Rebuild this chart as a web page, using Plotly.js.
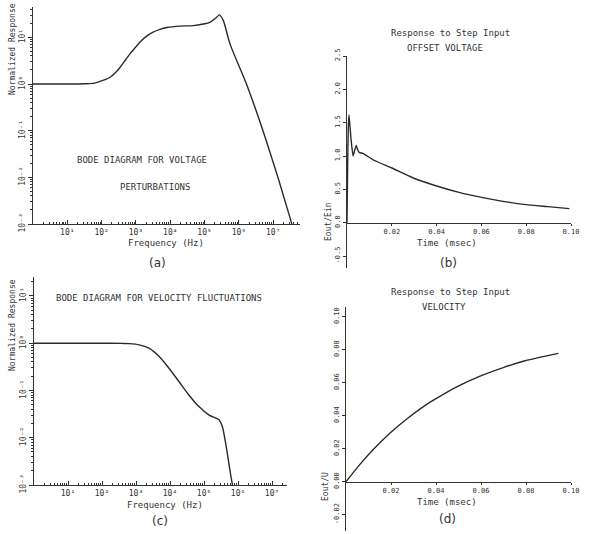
<!DOCTYPE html>
<html>
<head>
<meta charset="utf-8">
<script src="https://cdn.plot.ly/plotly-3.0.1.min.js"></script>
<style>html,body{margin:0;padding:0;background:#fff;}#chart{width:596px;height:534px;}</style>
</head>
<body>
<div id="chart"></div>
<script>
// (a) Bode diagram for voltage perturbations
const freqA = [1, 10, 31.6, 63.1, 89.1, 125.9, 173.8, 251.2, 346.7, 501.2, 676.1, 1000, 1318, 1995, 3162, 5012, 7943, 19498, 46774, 102329, 141254, 177828, 223872, 269153, 346737, 549541, 1659587, 6309573, 30902954, 53703180];
const respA = [1, 1, 1.012, 1.047, 1.14, 1.245, 1.38, 1.74, 2.29, 3.31, 4.47, 6.31, 7.94, 10.47, 12.9, 14.8, 16.2, 17.4, 17.8, 19.5, 20.9, 23.4, 26.9, 30.2, 23.4, 7.24, 1.0, 0.0603, 0.00135, 0.000295];

// (b) step response, offset voltage
const timeB = [0, 0.0003, 0.0006, 0.0009, 0.0018, 0.0027, 0.0034, 0.0041, 0.0048, 0.0056, 0.0071, 0.0118, 0.020, 0.0296, 0.040, 0.0504, 0.060, 0.0696, 0.080, 0.0896, 0.0993];
const respB = [0, 0.9, 1.45, 1.62, 1.25, 1.0, 1.08, 1.16, 1.09, 1.05, 1.04, 0.94, 0.82, 0.67, 0.55, 0.45, 0.38, 0.32, 0.27, 0.24, 0.21];

// (c) Bode diagram for velocity fluctuations
const freqC = [1, 100, 398, 631, 1230, 2399, 4786, 9333, 18197, 36308, 70795, 141254, 275423, 346737, 676083, 954993];
const respC = [1, 1, 0.989, 0.977, 0.923, 0.783, 0.525, 0.295, 0.155, 0.0794, 0.0457, 0.0302, 0.0240, 0.0170, 0.00107, 0.000372];

// (d) step response, velocity
const timeD = [0, 0.0062, 0.0121, 0.0196, 0.027, 0.0344, 0.0396, 0.0492, 0.0596, 0.0699, 0.0796, 0.0944];
const respD = [0, 0.0105, 0.0195, 0.0295, 0.0380, 0.0455, 0.0500, 0.0575, 0.0640, 0.0692, 0.0733, 0.0778];

// tick labels
const freqTickVals = [10, 100, 1000, 10000, 100000, 1000000, 10000000];
const freqTickText = ['10¹', '10²', '10³', '10⁴', '10⁵', '10⁶', '10⁷'];
const respTickVals = [0.001, 0.01, 0.1, 1, 10];
const respTickText = ['10⁻³', '10⁻²', '10⁻¹', '10⁰', '10¹'];
const timeTickVals = [0.02, 0.04, 0.06, 0.08, 0.10];
const timeTickText = ['0.02', '0.04', '0.06', '0.08', '0.10'];
const bTickVals = [-0.5, 0, 0.5, 1.0, 1.5, 2.0, 2.5];
const bTickText = ['-0.5', '0.0', '0.5', '1.0', '1.5', '2.0', '2.5'];
const dTickVals = [-0.02, 0, 0.02, 0.04, 0.06, 0.08, 0.10];
const dTickText = ['-0.02', '0.00', '0.02', '0.04', '0.06', '0.08', '0.10'];

function minorLog(d0, d1) {
  const out = [];
  for (let d = d0; d <= d1; d++) for (let k = 2; k <= 9; k++) out.push(k * Math.pow(10, d));
  return out;
}

const W = 596, H = 534;
const px = v => v / W;
const py = v => 1 - v / H;
const ink = '#333';
const lineSmooth = {color: '#2a2a2a', width: 1.4, shape: 'spline', smoothing: 0.8};
const lineSpike = {color: '#2a2a2a', width: 1.4, shape: 'spline', smoothing: 0.4};

const traces = [
  {x: freqA, y: respA, xaxis: 'x', yaxis: 'y', mode: 'lines', line: lineSmooth, hoverinfo: 'skip'},
  {x: timeB, y: respB, xaxis: 'x2', yaxis: 'y2', mode: 'lines', line: lineSpike, hoverinfo: 'skip'},
  {x: freqC, y: respC, xaxis: 'x3', yaxis: 'y3', mode: 'lines', line: lineSmooth, hoverinfo: 'skip'},
  {x: timeD, y: respD, xaxis: 'x4', yaxis: 'y4', mode: 'lines', line: lineSmooth, hoverinfo: 'skip'}
];

const common = {showline: true, linecolor: ink, linewidth: 1, showgrid: false, zeroline: false,
  tickcolor: ink, tickwidth: 1, tickfont: {family: 'DejaVu Sans Mono', size: 8, color: ink}, fixedrange: true};
const smallTicks = {family: 'DejaVu Sans Mono', size: 7, color: ink};

function logX(dom, rng) {
  return Object.assign({}, common, {type: 'log', domain: dom, range: rng, tickmode: 'array',
    tickvals: freqTickVals, ticktext: freqTickText, ticks: 'inside', ticklen: 4,
    minor: {tickmode: 'array', tickvals: minorLog(0, 7), ticks: 'inside', ticklen: 2, tickcolor: ink, showgrid: false}});
}
function logY(dom, rng, anchor) {
  return Object.assign({}, common, {type: 'log', domain: dom, range: rng, anchor: anchor, tickmode: 'array',
    tickvals: respTickVals, ticktext: respTickText, ticks: 'outside', ticklen: 4, tickangle: -90,
    minor: {tickmode: 'array', tickvals: minorLog(-3, 1), ticks: 'outside', ticklen: 2, tickcolor: ink, showgrid: false}});
}

const layout = {
  width: W, height: H, margin: {l: 0, r: 0, t: 0, b: 0},
  paper_bgcolor: '#ffffff', plot_bgcolor: 'rgba(0,0,0,0)', showlegend: false,
  font: {family: 'DejaVu Sans Mono', size: 9, color: ink},
  xaxis: Object.assign(logX([px(33), px(300)], [0, 7.78]), {anchor: 'y'}),
  yaxis: logY([py(224), py(7)], [-3, 1.65], 'x'),
  xaxis2: Object.assign({}, common, {domain: [px(347), px(571)], range: [0, 0.1], anchor: 'free', position: py(222.7),
    tickmode: 'array', tickvals: timeTickVals, ticktext: timeTickText, ticks: 'outside', ticklen: 2, tickfont: smallTicks}),
  yaxis2: Object.assign({}, common, {domain: [py(268), py(56)], range: [-0.68, 2.5], anchor: 'x2',
    tickmode: 'array', tickvals: bTickVals, ticktext: bTickText, ticks: 'outside', ticklen: 3, tickangle: -90, tickfont: smallTicks}),
  xaxis3: Object.assign(logX([px(34), px(287)], [0, 7.44]), {anchor: 'y3'}),
  yaxis3: logY([py(485), py(277)], [-3, 1.4], 'x3'),
  xaxis4: Object.assign({}, common, {domain: [px(346), px(571)], range: [0, 0.1], anchor: 'free', position: py(481.7),
    tickmode: 'array', tickvals: timeTickVals, ticktext: timeTickText, ticks: 'outside', ticklen: 2, tickfont: smallTicks}),
  yaxis4: Object.assign({}, common, {domain: [py(531), py(307)], range: [-0.0299, 0.1059], anchor: 'x4',
    tickmode: 'array', tickvals: dTickVals, ticktext: dTickText, ticks: 'outside', ticklen: 3, tickangle: -90, tickfont: smallTicks}),
  annotations: []
};

function note(text, x, y, opts) {
  layout.annotations.push(Object.assign({text: text, xref: 'paper', yref: 'paper', x: px(x), y: py(y),
    xanchor: 'center', yanchor: 'middle', showarrow: false,
    font: {family: 'DejaVu Sans Mono', size: 9, color: ink}}, opts || {}));
}
const rot = {textangle: -90, font: {family: 'DejaVu Sans Mono', size: 8, color: ink}};
const cap = {font: {family: 'DejaVu Sans', size: 12, color: ink}};

note('BODE DIAGRAM FOR VOLTAGE', 142, 160);
note('PERTURBATIONS', 155, 187);
note('Frequency (Hz)', 166, 243);
note('(a)', 157, 263, cap);
note('Normalized Response', 12, 49, rot);

note('Response to Step Input', 450, 33);
note('OFFSET VOLTAGE', 445, 48);
note('Eout/Ein', 328, 222, rot);
note('Time (msec)', 447, 243);
note('(b)', 448, 263, cap);

note('BODE DIAGRAM FOR VELOCITY FLUCTUATIONS', 159, 298);
note('Normalized Response', 12, 325, rot);
note('Frequency (Hz)', 165, 505);
note('(c)', 160, 521, cap);

note('Response to Step Input', 450, 292);
note('VELOCITY', 444, 307);
note('Eout/U', 325, 487, rot);
note('Time (msec)', 447, 502);
note('(d)', 447, 519, cap);

Plotly.newPlot('chart', traces, layout, {staticPlot: true, displayModeBar: false});
</script>
</body>
</html>
